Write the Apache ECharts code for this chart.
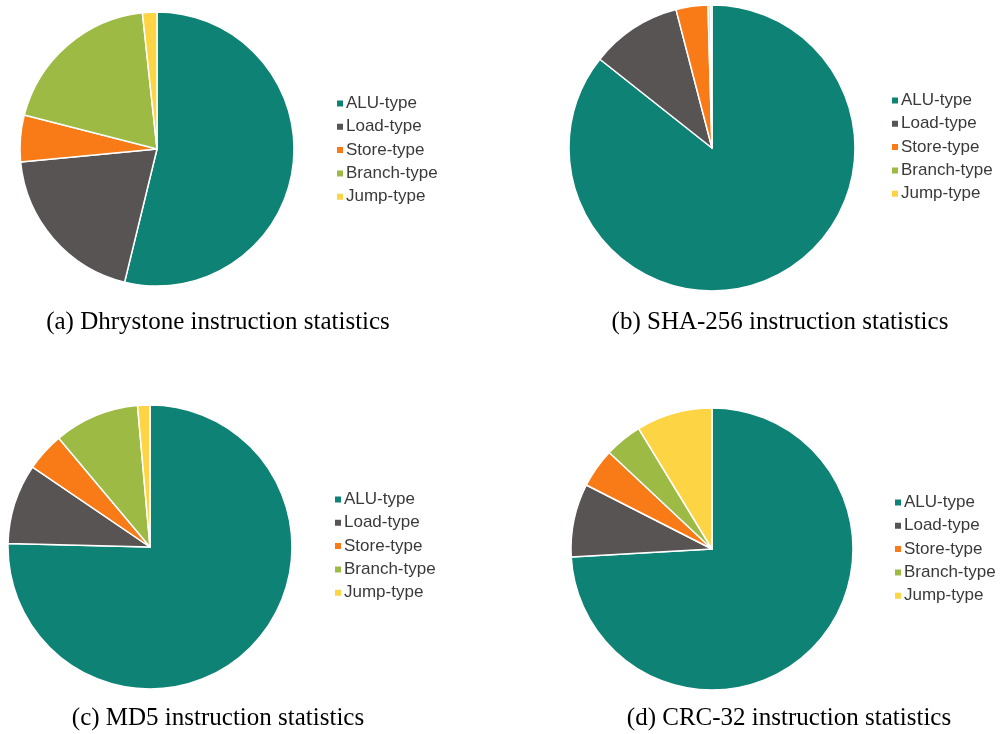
<!DOCTYPE html>
<html>
<head>
<meta charset="utf-8">
<script src="https://cdn.jsdelivr.net/npm/echarts@6/dist/echarts.min.js"></script>
<style>
  html, body { margin: 0; padding: 0; background: #fff; }
  #main { width: 1003px; height: 734px; }
</style>
</head>
<body>
<div id="main"></div>
<script>
// instruction classes
const categories = ['ALU-type', 'Load-type', 'Store-type', 'Branch-type', 'Jump-type'];
// shares in percent
const dhrystone = [53.8, 19.7, 5.5, 19.3, 1.7];
const sha256 = [85.7, 10.3, 3.6, 0.25, 0.2];
const md5 = [75.4, 9.1, 4.4, 9.7, 1.4];
const crc32 = [74.1, 8.4, 4.5, 4.3, 8.7];
const captions = [
  '(a) Dhrystone instruction statistics',
  '(b) SHA-256 instruction statistics',
  '(c) MD5 instruction statistics',
  '(d) CRC-32 instruction statistics'
];

const colors = ['#0e8275', '#595454', '#f97b17', '#9dba44', '#fdd443'];

// layout of each panel
const panels = [
  { values: dhrystone, center: [157, 149], r: 137, legend: [335, 95], cap: [218, 322] },
  { values: sha256, center: [712, 148], r: 143, legend: [890, 92], cap: [780, 322] },
  { values: md5, center: [150, 547], r: 142, legend: [333, 491], cap: [218, 718] },
  { values: crc32, center: [712, 549], r: 141, legend: [893, 494], cap: [789, 718] }
];

const chart = echarts.init(document.getElementById('main'));

const option = {
  animation: false,
  color: colors,
  legend: panels.map(p => ({
    orient: 'vertical',
    left: p.legend[0],
    top: p.legend[1],
    padding: 0,
    icon: 'rect',
    itemWidth: 8,
    itemHeight: 8,
    itemGap: 6.3,
    selectedMode: false,
    data: categories,
    textStyle: {
      fontFamily: 'Liberation Sans',
      fontSize: 17,
      lineHeight: 16,
      color: '#3a3a3a',
      padding: [0, 0, 0, -3]
    }
  })),
  series: panels.map(p => ({
    type: 'pie',
    center: p.center,
    radius: p.r,
    startAngle: 90,
    clockwise: true,
    label: { show: false },
    labelLine: { show: false },
    silent: true,
    itemStyle: { borderColor: '#fff', borderWidth: 1.5 },
    data: categories.map((c, i) => ({ name: c, value: p.values[i] }))
  })),
  graphic: panels.map((p, i) => ({
    type: 'text',
    x: p.cap[0],
    y: p.cap[1],
    style: {
      text: captions[i],
      fontFamily: 'Liberation Serif',
      fontSize: 25,
      fill: '#000',
      align: 'center',
      verticalAlign: 'middle'
    }
  }))
};

chart.setOption(option);
</script>
</body>
</html>
